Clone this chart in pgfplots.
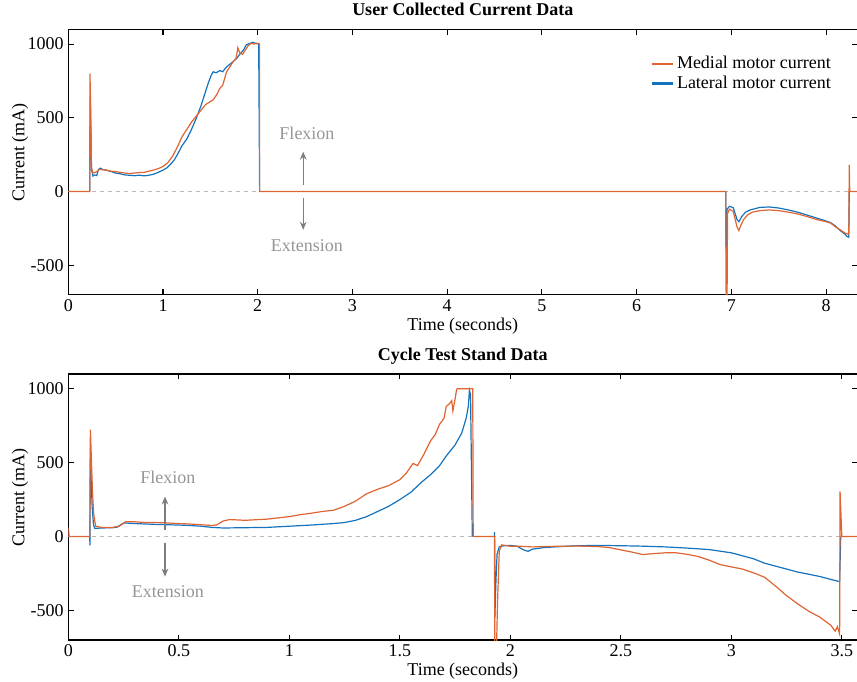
\documentclass[border=0pt]{standalone}
\usepackage{fontspec}
\setmainfont{Liberation Serif}
\usepackage{pgfplots}
\pgfplotsset{compat=1.18}
\usetikzlibrary{arrows.meta}
\definecolor{med}{RGB}{222,100,50}
\definecolor{lat}{RGB}{20,115,190}
\definecolor{anntext}{RGB}{150,150,150}
\definecolor{annarrow}{RGB}{125,125,125}
\newcommand{\fs}{\fontsize{13.5}{16}\selectfont}
\pgfplotsset{
  base/.style={
    scale only axis, width=591.75pt,
    ymin=-700, ymax=1100, ytick={-500,0,500,1000},
    tick align=inside, xtick pos=both, ytick pos=both,
    major tick length=4pt,
    axis line style={line width=1pt},
    every tick/.style={black, line width=0.8pt},
    /pgf/number format/assume math mode=true,
    /pgf/number format/1000 sep={},
    tick label style={font=\fs},
    label style={font=\fs},
    title style={font=\fs\bfseries, at={(axis description cs:0.5,1)}, anchor=base, yshift=4pt},
    xlabel style={at={(axis description cs:0.5,0)}, anchor=north, inner sep=0pt, yshift=-17pt},
    ylabel style={at={(axis description cs:-0.061,0.535)}, anchor=center},
    xlabel={Time (seconds)}, ylabel={Current (mA)},
    unbounded coords=jump,
    legend image code/.code={\draw[#1] (0pt,0pt) -- (16pt,0pt);},
  },
  medl/.style={med, line width=0.9pt},
  latl/.style={lat, line width=0.9pt},
}
\begin{document}
\begin{tikzpicture}
% ---------------- top ----------------
\begin{axis}[base, at={(51.225pt,-221.025pt)}, anchor=south west, height=199.05pt,
  xmin=0, xmax=8.33, xtick={0,1,2,3,4,5,6,7,8},
  title={User Collected Current Data},
  legend style={at={(rel axis cs:0.972,0.914)}, anchor=north east, draw=none, fill=none, font=\fs, row sep=0pt, inner sep=1pt},
  legend cell align=left]
\addlegendimage{med, line width=1.6pt}\addlegendentry{Medial motor current}
\addlegendimage{lat, line width=1.6pt}\addlegendentry{Lateral motor current}
\addplot[gray!55, dashed, line width=0.5pt, forget plot] coordinates {(0,0) (8.33,0)};
\addplot[latl, forget plot] coordinates {
(0.226,0) (0.232,640) (0.245,150) (0.26,105) (0.28,112) (0.30,108) (0.32,150) (0.34,158) (0.36,150)
(0.40,145) (0.45,136) (0.50,125) (0.55,120) (0.60,112) (0.65,110) (0.70,107) (0.75,111) (0.80,106)
(0.85,110) (0.90,117) (0.95,130) (1.00,145) (1.04,160) (1.08,185) (1.12,215) (1.16,260) (1.20,310)
(1.25,355) (1.30,420) (1.35,495) (1.40,580) (1.45,680) (1.48,740) (1.51,790) (1.53,812) (1.56,805)
(1.60,820) (1.63,812) (1.67,845) (1.70,860) (1.74,880) (1.78,905) (1.81,930) (1.85,960) (1.88,995)
(1.92,1005) (1.95,1012) (1.98,1004) (2.01,1000) (2.02,0) (2.03,nan) (6.94,0) (6.945,-400) (6.955,-120)
(6.98,-100) (7.02,-110) (7.06,-190) (7.08,-205) (7.11,-170) (7.15,-140) (7.20,-125) (7.30,-108)
(7.40,-105) (7.50,-112) (7.60,-125) (7.70,-140) (7.80,-160) (7.90,-180) (8.00,-200) (8.05,-212)
(8.10,-235) (8.15,-265) (8.20,-290) (8.22,-305) (8.24,-310) (8.245,0)};
\addplot[medl, forget plot] coordinates {
(0,0) (0.226,0) (0.229,800) (0.235,600) (0.245,160) (0.26,125) (0.28,128) (0.30,135) (0.33,150)
(0.36,148) (0.40,145) (0.45,138) (0.50,135) (0.55,130) (0.60,125) (0.65,122) (0.70,125) (0.75,128)
(0.80,130) (0.85,138) (0.90,145) (0.95,155) (1.00,170) (1.05,195) (1.10,238) (1.15,300) (1.20,370)
(1.25,420) (1.30,470) (1.35,510) (1.40,550) (1.45,590) (1.50,610) (1.53,622) (1.57,660) (1.60,700)
(1.63,720) (1.67,810) (1.70,840) (1.74,880) (1.77,900) (1.79,975) (1.81,940) (1.84,930) (1.87,960)
(1.90,990) (1.93,1005) (1.96,1000) (1.99,1006) (2.02,1000) (2.02,0) (6.94,0) (6.945,-720)
(6.955,-720) (6.96,-150) (6.98,-120) (7.02,-135) (7.06,-240) (7.08,-265) (7.10,-230) (7.13,-190)
(7.17,-160) (7.22,-140) (7.30,-130) (7.40,-125) (7.50,-130) (7.60,-140) (7.70,-152) (7.80,-170)
(7.90,-190) (8.00,-205) (8.05,-215) (8.10,-240) (8.15,-260) (8.20,-282) (8.235,-290) (8.24,-290)
(8.245,180) (8.25,0) (8.33,0)};
\draw[annarrow, line width=0.9pt, -{Stealth[length=6pt,width=5pt]}] (axis cs:2.48,45) -- (axis cs:2.48,270);
\draw[annarrow, line width=0.9pt, -{Stealth[length=6pt,width=5pt]}] (axis cs:2.48,-43) -- (axis cs:2.48,-260);
\node[anntext, font=\fs] at (axis cs:2.52,391) {Flexion};
\node[anntext, font=\fs] at (axis cs:2.52,-368) {Extension};
\end{axis}
% ---------------- bottom ----------------
\begin{axis}[base, at={(51.225pt,-480pt)}, anchor=south west, height=199.5pt,
  xmin=0, xmax=3.57, xtick={0,0.5,1,1.5,2,2.5,3,3.5},
  title={Cycle Test Stand Data}]
\addplot[gray!55, dashed, line width=0.5pt, forget plot] coordinates {(0,0) (3.57,0)};
\addplot[latl, forget plot] coordinates {
(0.097,0) (0.098,-60) (0.100,600) (0.103,400) (0.108,200) (0.114,80) (0.12,55) (0.15,58)
(0.20,60) (0.22,63) (0.25,92) (0.28,90) (0.30,88) (0.35,85) (0.40,82) (0.45,80) (0.50,78) (0.55,75)
(0.60,70) (0.65,62) (0.70,58) (0.80,60) (0.90,62) (1.00,70) (1.10,78) (1.20,88) (1.25,95) (1.30,110)
(1.35,135) (1.40,170) (1.45,205) (1.50,250) (1.55,300) (1.60,370) (1.64,420) (1.68,480) (1.71,545)
(1.75,620) (1.78,700) (1.80,800) (1.81,880) (1.815,990) (1.82,960) (1.828,0) (1.83,nan) (1.928,0) (1.929,30)
(1.93,-550) (1.935,-300) (1.94,-120) (1.95,-70) (1.97,-62) (2.00,-60) (2.03,-65) (2.06,-90)
(2.08,-100) (2.10,-85) (2.15,-75) (2.20,-70) (2.30,-62) (2.40,-60) (2.50,-62) (2.60,-65) (2.70,-70)
(2.80,-78) (2.90,-88) (3.00,-110) (3.05,-130) (3.10,-150) (3.15,-180) (3.20,-200) (3.25,-220)
(3.30,-240) (3.35,-255) (3.40,-270) (3.45,-290) (3.49,-305) (3.495,0)};
\addplot[medl, forget plot] coordinates {
(0,60) (0.004,0) (0.097,0) (0.10,724) (0.105,500) (0.109,318) (0.115,150) (0.124,70) (0.15,62)
(0.20,62) (0.23,70) (0.26,100) (0.30,100) (0.35,95) (0.40,95) (0.45,92) (0.50,88) (0.55,85) (0.60,80)
(0.65,75) (0.67,78) (0.70,105) (0.73,115) (0.80,110) (0.90,118) (1.00,135) (1.05,148) (1.10,158)
(1.15,170) (1.20,178) (1.25,205) (1.30,240) (1.35,290) (1.40,320) (1.45,345) (1.50,385) (1.53,430)
(1.56,495) (1.58,480) (1.61,560) (1.64,650) (1.66,690) (1.68,760) (1.70,800) (1.71,880) (1.725,900)
(1.735,920) (1.74,850) (1.75,930) (1.757,995) (1.76,1000) (1.83,1000) (1.832,0) (1.928,0)
(1.93,-720) (1.938,-720) (1.942,-450) (1.95,-100) (1.96,-56) (2.00,-66) (2.05,-66) (2.10,-70)
(2.20,-66) (2.30,-64) (2.40,-68) (2.45,-75) (2.50,-90) (2.55,-105) (2.60,-122) (2.65,-115)
(2.70,-110) (2.75,-110) (2.80,-120) (2.85,-135) (2.90,-160) (2.95,-190) (3.00,-205) (3.05,-220)
(3.10,-245) (3.15,-275) (3.20,-335) (3.25,-400) (3.30,-455) (3.35,-505) (3.40,-545) (3.45,-600)
(3.47,-640) (3.48,-610) (3.49,-660) (3.492,306) (3.50,0) (3.57,0)};
\draw[annarrow, line width=0.9pt, -{Stealth[length=6pt,width=5pt]}] (axis cs:0.4375,47) -- (axis cs:0.4375,271);
\draw[annarrow, line width=0.9pt, -{Stealth[length=6pt,width=5pt]}] (axis cs:0.4375,-41) -- (axis cs:0.4375,-271);
\node[anntext, font=\fs] at (axis cs:0.45,400) {Flexion};
\node[anntext, font=\fs] at (axis cs:0.45,-372) {Extension};
\end{axis}
\pgfresetboundingbox
\path (0pt,0pt) rectangle (642.75pt,-511.5pt);
\end{tikzpicture}
\end{document}
